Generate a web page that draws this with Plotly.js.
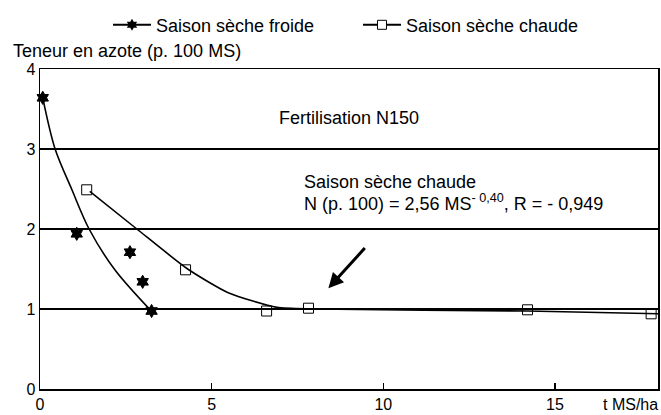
<!DOCTYPE html>
<html>
<head>
<meta charset="utf-8">
<script src="https://cdn.plot.ly/plotly-3.0.1.min.js"></script>
<style>html,body{margin:0;padding:0;background:#fff;}#chart{width:661px;height:415px;}</style>
</head>
<body>
<div id="chart"></div>
<script>
// Observed points
const froideX = [0.08, 1.07, 2.62, 2.99, 3.25];
const froideY = [3.64, 1.94, 1.71, 1.34, 0.975];
const chaudeX = [1.36, 4.24, 6.6, 7.82, 14.2, 17.8];
const chaudeY = [2.49, 1.49, 0.975, 1.01, 0.99, 0.94];
// Fitted curves
const froideCurveX = [0.08, 0.44, 0.93, 1.43, 2.18, 3.25];
const froideCurveY = [3.64, 3.0, 2.49, 2.0, 1.49, 0.97];
const chaudeCurveX = [1.45, 2.82, 4.3, 5.5, 6.9, 8.0, 14.2, 18.0];
const chaudeCurveY = [2.47, 2.0, 1.5, 1.2, 1.02, 1.0, 0.975, 0.94];
// Axis ticks
const xTicks = [0, 5, 10, 15];
const yTicks = [0, 1, 2, 3, 4];
const legendNames = ['Saison sèche froide', 'Saison sèche chaude'];

const FONT = 'Liberation Sans, Arial, Helvetica, sans-serif';
const BLACK = '#000';

const traces = [
  {x: froideCurveX, y: froideCurveY, mode: 'lines', line: {color: BLACK, width: 1.6, shape: 'spline', smoothing: 0.9}, showlegend: false, hoverinfo: 'skip'},
  {x: chaudeCurveX, y: chaudeCurveY, mode: 'lines', line: {color: BLACK, width: 1.6, shape: 'spline', smoothing: 0.6}, showlegend: false, hoverinfo: 'skip'},
  {x: froideX, y: froideY, mode: 'markers', marker: {symbol: 'hexagram', size: 10, color: BLACK, line: {color: BLACK, width: 1}}, showlegend: false, cliponaxis: false},
  {x: chaudeX, y: chaudeY, mode: 'markers', marker: {symbol: 'square-open', size: 10, color: BLACK, line: {color: BLACK, width: 1}}, showlegend: false, cliponaxis: false},
  {x: [null], y: [null], name: legendNames[0], mode: 'lines+markers', line: {color: BLACK, width: 2}, marker: {symbol: 'hexagram', size: 9, color: BLACK}},
  {x: [null], y: [null], name: legendNames[1], mode: 'lines+markers', line: {color: BLACK, width: 2}, marker: {symbol: 'square', size: 9, color: '#fff', line: {color: BLACK, width: 1}}}
];

const layout = {
  width: 661, height: 415,
  margin: {l: 40, r: 3, t: 69, b: 26},
  paper_bgcolor: '#fff', plot_bgcolor: '#fff',
  font: {family: FONT, size: 16, color: BLACK},
  showlegend: true,
  legend: {orientation: 'h', x: 0.11, xanchor: 'left', y: 1.195, yanchor: 'top', font: {size: 18, family: FONT}, itemwidth: 38, entrywidth: 197, entrywidthmode: 'pixels', bgcolor: 'rgba(0,0,0,0)'},
  xaxis: {range: [0, 18], tickvals: xTicks, ticktext: xTicks.map(String), ticks: 'inside', ticklen: 6, tickwidth: 1.5, tickcolor: BLACK,
          showline: true, linecolor: BLACK, linewidth: 1.5, mirror: true, showgrid: false, zeroline: false, tickfont: {size: 16}},
  yaxis: {range: [0, 4], tickvals: yTicks, ticktext: yTicks.map(String), ticks: '', showline: true, linecolor: BLACK, linewidth: 1.5, mirror: true,
          showgrid: true, gridcolor: BLACK, gridwidth: 1.5, zeroline: false, tickfont: {size: 16}},
  annotations: [
    {xref: 'paper', yref: 'paper', x: -0.047, y: 1.056, xanchor: 'left', yanchor: 'middle', text: 'Teneur en azote (p. 100 MS)', showarrow: false, font: {size: 18}},
    {xref: 'paper', yref: 'paper', x: 1.003, y: -0.048, xanchor: 'right', yanchor: 'middle', text: 't MS/ha', showarrow: false, font: {size: 16}},
    {xref: 'x', yref: 'y', x: 9.0, y: 3.39, xanchor: 'center', yanchor: 'middle', text: 'Fertilisation N150', showarrow: false, font: {size: 18}},
    {xref: 'x', yref: 'y', x: 7.62, y: 2.59, xanchor: 'left', yanchor: 'middle', text: 'Saison sèche chaude', showarrow: false, font: {size: 18}},
    {xref: 'x', yref: 'y', x: 7.62, y: 2.33, xanchor: 'left', yanchor: 'middle', text: 'N (p. 100) = 2,56 MS<sup>- 0,40</sup>, R = - 0,949', showarrow: false, font: {size: 18}},
    {xref: 'x', yref: 'y', axref: 'x', ayref: 'y', x: 8.4, y: 1.26, ax: 9.5, ay: 1.78, text: '', showarrow: true, arrowhead: 2, arrowsize: 1, arrowwidth: 3, arrowcolor: BLACK}
  ]
};

Plotly.newPlot('chart', traces, layout, {staticPlot: true, displayModeBar: false});
</script>
</body>
</html>
